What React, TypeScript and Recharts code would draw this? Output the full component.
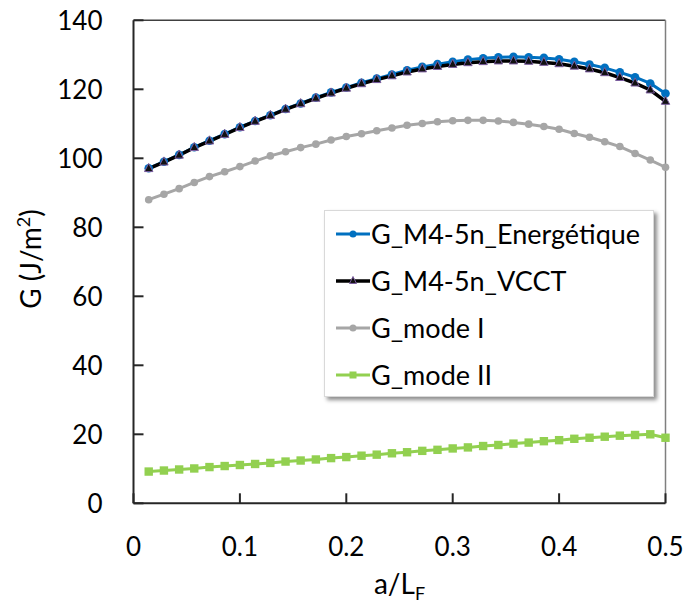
import { LineChart, Line, XAxis, YAxis, ReferenceLine, Label } from 'recharts';

const xValues = [
  0.0143, 0.0286, 0.0429, 0.0571, 0.0714, 0.0857, 0.1, 0.1143, 0.1286, 0.1429,
  0.1571, 0.1714, 0.1857, 0.2, 0.2143, 0.2286, 0.2429, 0.2571, 0.2714, 0.2857,
  0.3, 0.3143, 0.3286, 0.3429, 0.3571, 0.3714, 0.3857, 0.4, 0.4143, 0.4286,
  0.4429, 0.4571, 0.4714, 0.4857, 0.5,
];

const energetique = [
  97.1, 99.0, 101.0, 103.2, 105.1, 107.0, 109.0, 110.8, 112.5, 114.3,
  115.9, 117.6, 119.1, 120.5, 121.9, 123.1, 124.3, 125.5, 126.5, 127.3,
  128.0, 128.6, 129.0, 129.3, 129.4, 129.3, 129.1, 128.7, 128.0, 127.2,
  126.2, 124.9, 123.5, 121.7, 118.8,
];

const vcct = [
  97.0, 98.9, 100.9, 103.1, 105.0, 106.9, 108.9, 110.7, 112.4, 114.2,
  115.8, 117.4, 118.9, 120.3, 121.6, 122.8, 123.9, 125.0, 125.9, 126.6,
  127.2, 127.7, 128.0, 128.2, 128.2, 128.1, 127.8, 127.4, 126.7, 125.9,
  124.8, 123.4, 121.8, 119.8, 116.5,
];

const modeI = [
  88.0, 89.6, 91.2, 93.0, 94.7, 96.1, 97.6, 99.2, 100.7, 101.9,
  103.1, 104.1, 105.3, 106.3, 107.1, 108.0, 108.8, 109.6, 110.1, 110.6,
  110.9, 111.0, 111.0, 110.8, 110.4, 109.9, 109.2, 108.4, 107.2, 106.1,
  104.8, 103.4, 101.4, 99.5, 97.4,
];

const modeII = [
  9.2, 9.5, 9.8, 10.1, 10.5, 10.8, 11.1, 11.4, 11.7, 12.1,
  12.4, 12.7, 13.1, 13.4, 13.8, 14.1, 14.5, 14.8, 15.2, 15.5,
  15.9, 16.2, 16.6, 16.9, 17.3, 17.6, 18.0, 18.3, 18.7, 19.0,
  19.3, 19.6, 19.8, 20.0, 19.0,
];

const xTicks = [0, 0.1, 0.2, 0.3, 0.4, 0.5];
const yTicks = [0, 20, 40, 60, 80, 100, 120, 140];

const seriesNames = ['G_M4-5n_Energétique', 'G_M4-5n_VCCT', 'G_mode I', 'G_mode II'];

const data = xValues.map((x, i) => ({
  x,
  e: energetique[i],
  v: vcct[i],
  m1: modeI[i],
  m2: modeII[i],
}));

const FONT = 'Lato, "Open Sans", sans-serif';
const BLUE = '#0070C0';
const GRAY = '#A6A6A6';
const GREEN = '#92D050';
const PURPLE = '#7a5c9e';

function Triangle({ cx, cy, s = 4.2 }: { cx: number; cy: number; s?: number }) {
  if (cx == null || cy == null) return null;
  return (
    <path
      d={`M${cx},${cy - s - 1} L${cx + s},${cy + s * 0.7} L${cx - s},${cy + s * 0.7} Z`}
      fill="#111"
      stroke={PURPLE}
      strokeWidth={1}
    />
  );
}

function Square({ cx, cy, s = 4.2 }: { cx: number; cy: number; s?: number }) {
  if (cx == null || cy == null) return null;
  return <rect x={cx - s} y={cy - s} width={s * 2} height={s * 2} fill={GREEN} />;
}

// legend drawn as an overlay so it doesn't shrink the plot area
function LegendBox() {
  const rows = [
    { color: BLUE, width: 3, marker: 'circle' },
    { color: '#000', width: 3.5, marker: 'tri' },
    { color: GRAY, width: 3, marker: 'circle' },
    { color: GREEN, width: 3, marker: 'square' },
  ];
  return (
    <div
      style={{
        position: 'absolute',
        left: 324,
        top: 210,
        width: 330,
        height: 187,
        background: '#fff',
        border: '1px solid #d9d9d9',
        boxShadow: '3px 3px 4px rgba(0,0,0,0.45)',
        boxSizing: 'border-box',
        fontFamily: FONT,
      }}
    >
      {rows.map((r, i) => (
        <div
          key={i}
          style={{ position: 'absolute', left: 0, top: 23 + i * 47 - 16, height: 32, display: 'flex', alignItems: 'center' }}
        >
          <svg width={46} height={32} style={{ display: 'block' }}>
            <line x1={11} y1={16} x2={45} y2={16} stroke={r.color} strokeWidth={r.width} />
            {r.marker === 'circle' && <circle cx={28} cy={16} r={3.5} fill={r.color} />}
            {r.marker === 'tri' && <Triangle cx={28} cy={16} s={3.5} />}
            {r.marker === 'square' && <Square cx={28} cy={16} s={3.5} />}
          </svg>
          <span style={{ fontSize: 27, color: '#000', whiteSpace: 'nowrap', lineHeight: '32px' }}>{seriesNames[i]}</span>
        </div>
      ))}
    </div>
  );
}

export default function App() {
  // pinned to the viewport corner so the body margin doesn't push it into a scrollbar
  return (
    <div style={{ position: 'absolute', left: 0, top: 0, width: 688, height: 605, background: '#fff' }}>
      <LineChart
        width={688}
        height={605}
        data={data}
        margin={{ top: 20.3, right: 22.5, bottom: 31.7, left: 63.5 }}
        style={{ fontFamily: FONT }}
      >
        <XAxis
          type="number"
          dataKey="x"
          domain={[0, 0.5]}
          ticks={xTicks}
          tickFormatter={(v: number) => String(v)}
          height={70}
          stroke="#262626"
          strokeWidth={2}
          tickSize={-10}
          tickMargin={44}
          tick={{ fontSize: 26, fill: '#000', fontFamily: FONT }}
          interval={0}
        >
          <Label
            content={({ viewBox }: any) => {
              const cx = viewBox.x + viewBox.width / 2;
              return (
                <text x={cx} y={594} textAnchor="middle" fontSize={28} fontFamily={FONT} fill="#000">
                  a/L
                  <tspan fontSize={18} dy={6}>F</tspan>
                </text>
              );
            }}
          />
        </XAxis>
        <YAxis
          type="number"
          domain={[0, 140]}
          ticks={yTicks}
          width={70}
          stroke="#262626"
          strokeWidth={2}
          tickSize={-10}
          tickMargin={41}
          tick={{ fontSize: 26, fill: '#000', fontFamily: FONT }}
          interval={0}
        >
          <Label
            content={() => (
              <text
                x={0}
                y={0}
                transform={`translate(41, 259) rotate(-90)`}
                textAnchor="middle"
                fontSize={28}
                fontFamily={FONT}
                fill="#000"
              >
                G (J/m
                <tspan fontSize={18} dy={-11}>2</tspan>
                <tspan dy={11}>)</tspan>
              </text>
            )}
          />
        </YAxis>
        <ReferenceLine y={140} stroke="#404040" strokeWidth={1.5} />
        <ReferenceLine x={0.5} stroke="#7f7f7f" strokeWidth={1.5} />
        <Line
          dataKey="e"
          stroke={BLUE}
          strokeWidth={3}
          dot={{ r: 4.3, fill: BLUE, stroke: BLUE, strokeWidth: 0 }}
          isAnimationActive={false}
        />
        <Line
          dataKey="v"
          stroke="#000"
          strokeWidth={3.5}
          dot={(p: any) => <Triangle key={`t${p.index}`} cx={p.cx} cy={p.cy} />}
          isAnimationActive={false}
        />
        <Line
          dataKey="m1"
          stroke={GRAY}
          strokeWidth={3}
          dot={{ r: 3.8, fill: GRAY, stroke: GRAY, strokeWidth: 0 }}
          isAnimationActive={false}
        />
        <Line
          dataKey="m2"
          stroke={GREEN}
          strokeWidth={3}
          dot={(p: any) => <Square key={`s${p.index}`} cx={p.cx} cy={p.cy} />}
          isAnimationActive={false}
        />
      </LineChart>
      <LegendBox />
    </div>
  );
}
